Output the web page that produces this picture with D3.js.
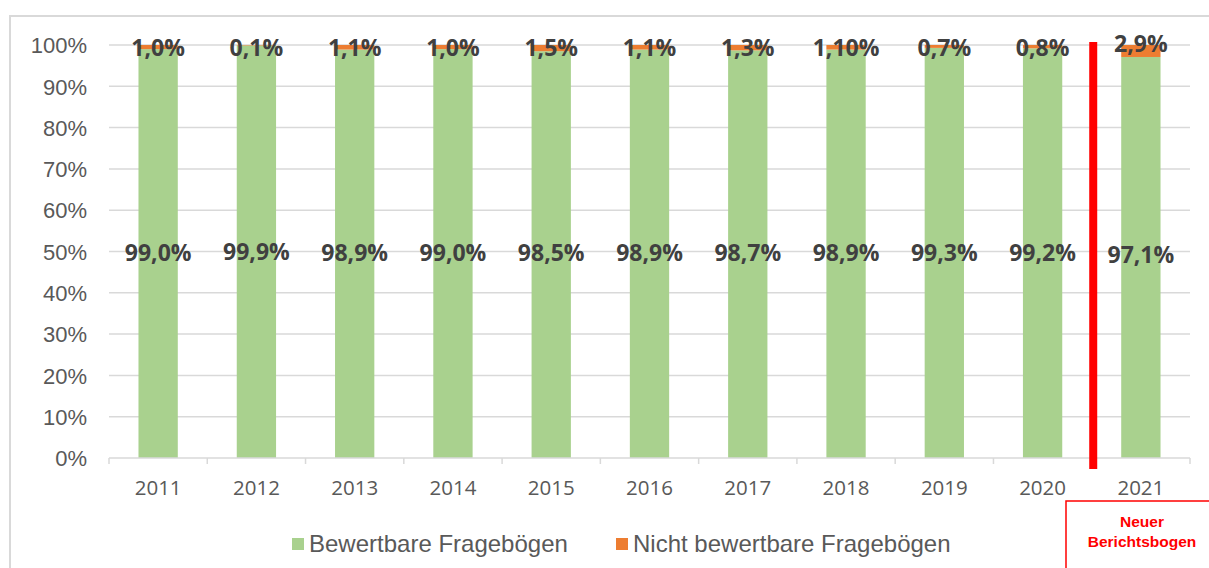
<!DOCTYPE html>
<html><head><meta charset="utf-8">
<script src="https://cdn.jsdelivr.net/npm/d3@7"></script>
<style>
html,body{margin:0;padding:0;background:#fff;}
svg{display:block;}
</style></head>
<body>
<svg id="chart" width="1209" height="568"></svg>
<script>
const years = ["2011","2012","2013","2014","2015","2016","2017","2018","2019","2020","2021"];
const bewertbar = [99.0,99.9,98.9,99.0,98.5,98.9,98.7,98.9,99.3,99.2,97.1];
const nichtBewertbar = [1.0,0.1,1.1,1.0,1.5,1.1,1.3,1.1,0.7,0.8,2.9];
const nichtLabels = ["1,0%","0,1%","1,1%","1,0%","1,5%","1,1%","1,3%","1,10%","0,7%","0,8%","2,9%"];
const yTicks = [0,10,20,30,40,50,60,70,80,90,100];
const seriesNames = ["Bewertbare Fragebögen","Nicht bewertbare Fragebögen"];
const colors = ["#a9d18e","#ed7d31"];
const noteLines = ["Neuer","Berichtsbogen"];
const markerAfter = "2020";

(function(){
const svg = d3.select("#chart");
const pL = 109, pR = 1190, pT = 45, pB = 458;

const x = d3.scaleBand().domain(years).range([pL,pR]).paddingInner(0.6).paddingOuter(0.3);
const y = d3.scaleLinear().domain([0,100]).range([pB,pT]);

// frame
svg.append("line").attr("x1",10).attr("x2",10).attr("y1",15).attr("y2",568).attr("stroke","#d9d9d9").attr("stroke-width",2);
svg.append("line").attr("x1",10).attr("x2",1209).attr("y1",16).attr("y2",16).attr("stroke","#d9d9d9").attr("stroke-width",2);

// gridlines
svg.append("g").selectAll("line").data(yTicks.filter(d=>d>0)).join("line")
  .attr("x1",pL).attr("x2",pR).attr("y1",d=>y(d)).attr("y2",d=>y(d))
  .attr("stroke","#d9d9d9").attr("stroke-width",1.5);

// y axis labels
const yAxis = d3.axisLeft(y).tickValues(yTicks).tickFormat(d=>d+"%").tickSize(0).tickPadding(22);
const ya = svg.append("g").attr("transform",`translate(${pL},0)`).call(yAxis);
ya.select(".domain").remove();
ya.selectAll("text").attr("font-family","'Liberation Sans',Arial,sans-serif").attr("font-size",22).attr("fill","#595959").attr("dy","0.35em");

// bars
const stacked = years.map((yr,i)=>({yr, a:bewertbar[i], b:nichtBewertbar[i], lab:nichtLabels[i]}));
svg.append("g").selectAll("rect").data(stacked).join("rect")
  .attr("x",d=>x(d.yr)).attr("width",x.bandwidth())
  .attr("y",d=>y(d.a)).attr("height",d=>y(0)-y(d.a)).attr("fill",colors[0]);
svg.append("g").selectAll("rect").data(stacked).join("rect")
  .attr("x",d=>x(d.yr)).attr("width",x.bandwidth())
  .attr("y",d=>y(d.a+d.b)).attr("height",d=>y(d.a)-y(d.a+d.b)).attr("fill",colors[1]);

// x axis
const xa = svg.append("g").attr("transform",`translate(0,${pB})`).call(d3.axisBottom(x).tickSize(0).tickPadding(22));
xa.select(".domain").remove();
xa.selectAll("text").attr("font-family","'Open Sans',sans-serif").attr("font-size",20.5).attr("fill","#595959");
svg.append("line").attr("x1",pL).attr("x2",pR).attr("y1",pB).attr("y2",pB).attr("stroke","#d9d9d9").attr("stroke-width",1.5);
const bounds = d3.range(years.length+1).map(i=> pL + i*(pR-pL)/years.length);
svg.append("g").selectAll("line").data(bounds).join("line")
  .attr("x1",d=>d).attr("x2",d=>d).attr("y1",pB).attr("y2",pB+6)
  .attr("stroke","#d9d9d9").attr("stroke-width",1.5);

// data labels
const lblFont = "'Open Sans',sans-serif";
svg.append("g").selectAll("text").data(stacked).join("text")
  .attr("x",d=>x(d.yr)+x.bandwidth()/2).attr("y",d=>(y(d.a/2)+y(50))/2)
  .attr("dy","0.36em").attr("text-anchor","middle")
  .attr("font-family",lblFont).attr("font-weight",700).attr("font-size",23).attr("fill","#404040")
  .text(d=>d.a.toFixed(1).replace(".",",")+"%");
svg.append("g").selectAll("text").data(stacked).join("text")
  .attr("x",d=>x(d.yr)+x.bandwidth()/2)
  .attr("y",d=> d.b>2 ? y(100)-1 : y(100)+3)
  .attr("dy","0.36em").attr("text-anchor","middle")
  .attr("font-family",lblFont).attr("font-weight",700).attr("font-size",23).attr("fill","#404040")
  .text(d=>d.lab);

// red marker line between 2020 and 2021
const mi = years.indexOf(markerAfter);
const mx = pL + (mi+1)*(pR-pL)/years.length + 1.5;
svg.append("rect").attr("x",mx-4).attr("width",8).attr("y",42).attr("height",427).attr("fill","#ff0000");

// note box
svg.append("rect").attr("x",1066).attr("y",501).attr("width",160).attr("height",80)
  .attr("fill","none").attr("stroke","#ff0000").attr("stroke-width",1.5);
svg.append("g").selectAll("text").data(noteLines).join("text")
  .attr("x",1142).attr("y",(d,i)=>527+i*20).attr("text-anchor","middle")
  .attr("font-family","'Liberation Sans',Arial,sans-serif").attr("font-weight",700).attr("font-size",15.5).attr("fill","#ff0000")
  .text(d=>d);

// legend
const legendX = [292, 616];
const lg = svg.append("g").selectAll("g").data(seriesNames).join("g")
  .attr("transform",(d,i)=>`translate(${legendX[i]},544)`);
lg.append("rect").attr("x",0).attr("y",-6).attr("width",12).attr("height",12).attr("fill",(d,i)=>colors[i]);
lg.append("text").attr("x",17).attr("y",0).attr("dy","0.35em")
  .attr("font-family","'Liberation Sans',Arial,sans-serif").attr("font-size",24).attr("fill","#595959")
  .text(d=>d);
})();
</script>
</body></html>
